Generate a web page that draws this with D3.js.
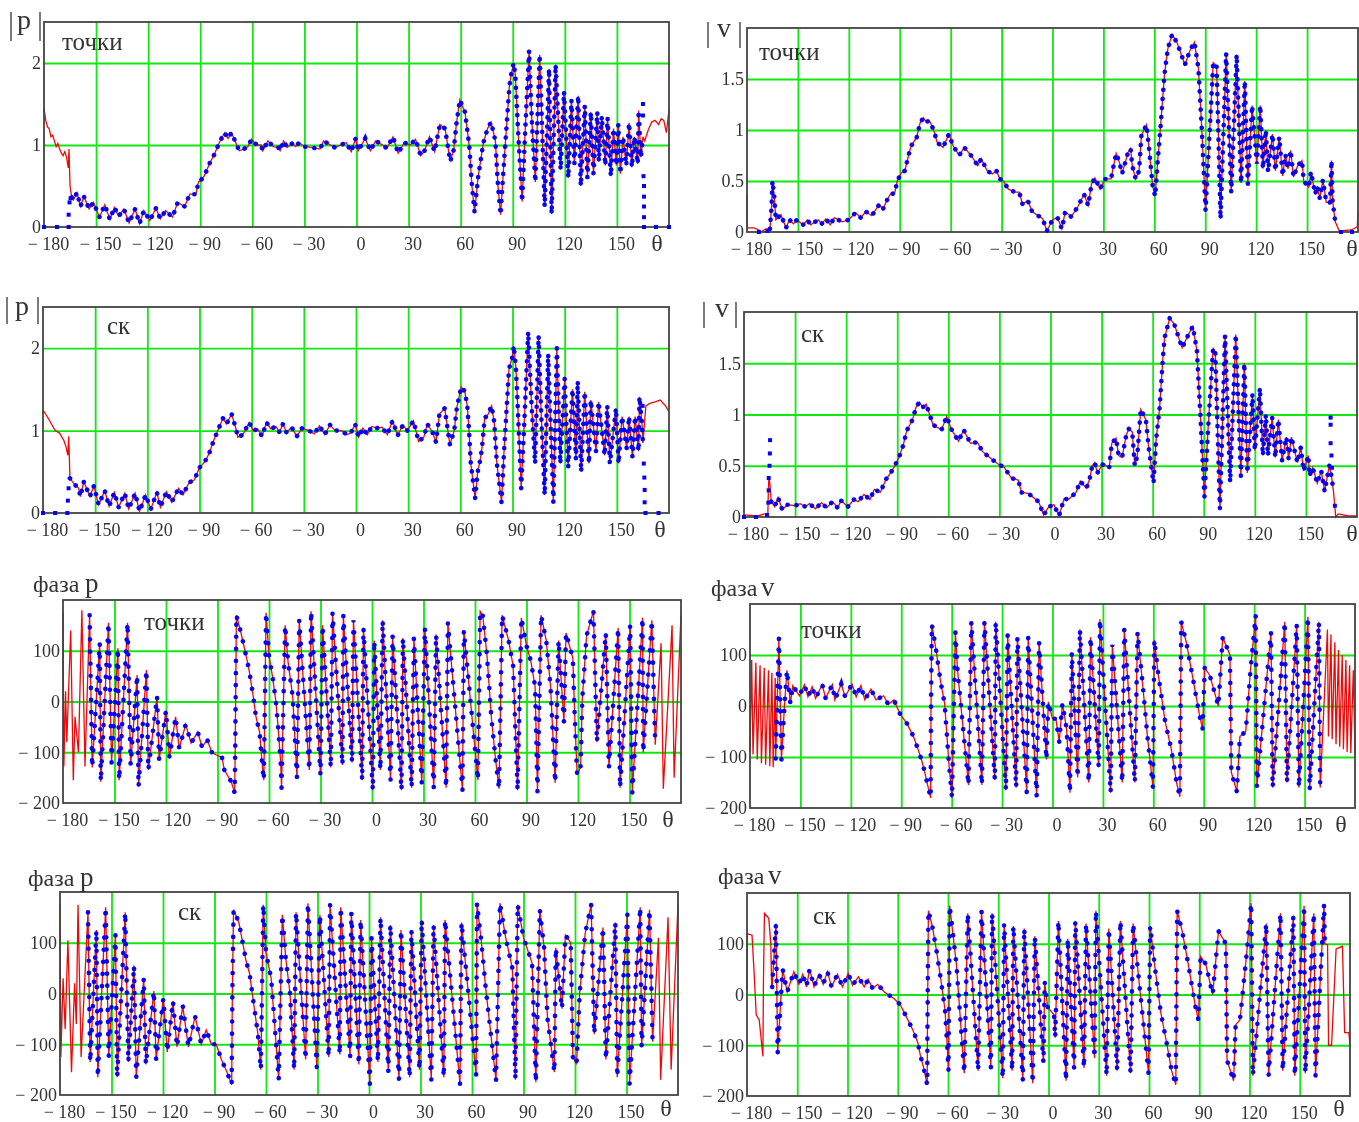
<!DOCTYPE html>
<html>
<head>
<meta charset="utf-8">
<script src="https://cdn.jsdelivr.net/npm/d3@7"></script>
<style>
  body { margin: 0; background: #fff; }
  svg { display: block; filter: blur(0.5px); }
  text { font-family: "Liberation Serif", serif; fill: #333; }
</style>
</head>
<body>
<div class="canvas"></div>
<script>
// tick labels shared by the panels
const thetaTicks = [-180, -150, -120, -90, -60, -30, 0, 30, 60, 90, 120, 150]
const gridTheta = [-150, -120, -90, -60, -30, 0, 30, 60, 90, 120, 150]
const absPTicks = [0, 1, 2]
const absVTicks = [0, 0.5, 1, 1.5]
const phaseTicks = [-200, -100, 0, 100]

// |p| точки : [theta, value]
const absPDots = [[-180,1.45],[-179,1.3],[-178,1.22],[-177,1.2],[-176,1.1],[-175,1.12],[-174,1.05],[-173,.98],[-172,1.02],[-171,.95],[-170,.9],[-169,.87],[-168,.92],[-167,.85],[-166,.72],[-165.6,.95],[-165,.5],[-164,.36],[-163,.33],[-161,.42],[-159,.25],[-157,.37],[-154,.22],[-151.5,.3],[-148,.12],[-145,.27],[-142,.09],[-139.5,.24],[-137,.13],[-134,.22],[-131,.05],[-127.5,.22],[-125,.04],[-122.5,.2],[-119,.08],[-115.5,.23],[-113,.1],[-110,.2],[-106,.12],[-103,.3],[-99,.25],[-96,.4],[-92.5,.4],[-91,.55],[-90,.56],[-87.5,.63],[-84.5,.78],[-82,.88],[-79,1.03],[-76,1.15],[-74,1.08],[-72,1.15],[-69,1.0],[-67.5,.93],[-65,.95],[-62.5,.98],[-60.5,1.07],[-57.5,1.0],[-55,1.0],[-54,.93],[-51,1.05],[-48,.98],[-45,.97],[-44,.93],[-42,1.05],[-40,.97],[-37,1.02],[-35,.98],[-33,1.03],[-30,.98],[-26,.97],[-21,.95],[-19,1.05],[-15,1.0],[-12.5,.97],[-9,1.0],[-6,1.03],[-3,.92],[-.5,1.08],[1,.93],[5,1.08],[8,.93],[11,1.05],[15,1.0],[17.5,.96],[21,1.1],[24,.9],[27.5,1.03],[31,1.0],[34,1.07],[37,.87],[39,.92],[42,1.1],[45,.92],[48,1.25],[51,1.2],[54,.8],[56,.94],[57.5,1.25],[59.5,1.55],[62.5,1.4],[65,.98],[66.5,.5],[68,.18],[70,.6],[73,1.02],[75.5,1.2],[77.5,1.28],[80,1.05],[81.5,.5],[83,.15],[84.5,.65],[86.5,1.25],[88,1.7],[89,1.85],[90.5,2.0],[91.5,1.85],[93,1.2],[95.4,.31],[97,1.1],[99.4,2.15],[101,1.3],[103,.55],[105.5,2.1],[108.4,.25],[110.9,1.93],[112.4,.16],[114.7,1.98],[117.6,.7],[119.5,1.65],[122,.6],[123.8,1.55],[125.5,.77],[127.7,1.6],[129.2,.5],[131.5,1.48],[133,.6],[135,1.4],[136.5,.65],[138.7,1.4],[139.6,.8],[141.3,1.35],[143.3,.75],[144.6,1.33],[146.5,.62],[148,1.2],[149.7,.75],[150.8,1.25],[152,.65],[153.5,1.1],[155.4,.75],[157,1.27],[158.6,.73],[160,1.1],[162,.77],[162.5,1.42],[163.8,.85],[165,1.1],[166,1.05],[168,1.18],[170,1.28],[172,1.3],[174,1.25],[175.5,1.32],[177,1.3],[178.5,1.15],[180,1.43]]
const absPLead = [[-180,0],[-172.5,0],[-165.8,0],[-165.8,.15],[-165.3,.3],[-164.7,.35]]
const absPTrail = [[165,1.5],[165,1.36],[165.3,.62],[165.6,.5],[165.6,.37],[165.6,.25],[165.6,.12],[165.6,0],[172.5,0],[180,0]]

// |v| точки
const absVDots = [[-180,.37],[-180,.2],[-179.7,.04],[-176,.04],[-173,.02],[-172,0],[-168.8,.03],[-166.5,.03],[-165.5,.25],[-165,.5],[-164,.36],[-163,.12],[-160,.17],[-157,.04],[-155,.12],[-152.6,.08],[-150.6,.12],[-147,.07],[-144.5,.12],[-142.5,.07],[-138,.12],[-136,.08],[-133.5,.13],[-131,.07],[-128.5,.14],[-124,.1],[-120,.12],[-116,.19],[-113,.14],[-110,.2],[-106.5,.16],[-102,.27],[-100,.22],[-97,.33],[-95.5,.37],[-93,.38],[-91.5,.5],[-89,.58],[-87,.6],[-85,.74],[-83.4,.84],[-80,.93],[-78,1.07],[-76,1.12],[-74.5,1.08],[-72.5,1.09],[-70,1.0],[-68,.88],[-64.5,.83],[-61,.96],[-58.7,.85],[-55,.75],[-52,.83],[-48,.75],[-44,.65],[-42,.72],[-38.5,.6],[-35.5,.57],[-33,.6],[-31,.52],[-29,.5],[-26,.42],[-22,.39],[-19.6,.39],[-17.6,.27],[-14.6,.31],[-12,.2],[-5.8,.13],[-3.3,.01],[0,.12],[3,.14],[5.5,.03],[7.5,.2],[11,.15],[15,.25],[18.6,.37],[21,.26],[23,.47],[25,.53],[28,.42],[31,.52],[34.5,.52],[36,.65],[37.5,.77],[39.5,.68],[41,.57],[44.5,.78],[46,.82],[47,.65],[49,.52],[51,.6],[52.4,.95],[55.4,1.05],[57,.8],[59,.45],[60.5,.35],[62,.7],[63.5,1.0],[66,1.55],[68,1.8],[70.5,1.94],[73.5,1.85],[78,1.64],[81,1.78],[83.6,1.86],[86,1.6],[88,1.0],[90.2,.21],[92,.8],[94.7,1.66],[96.7,1.63],[99,.13],[102.3,1.75],[105.3,.39],[108.5,1.74],[111.1,.48],[113.3,1.48],[115.1,.47],[117.6,1.24],[120.4,.67],[122.4,1.24],[124,.62],[125.7,1.0],[127,.59],[129.6,.96],[131.3,.6],[133.6,.93],[135.6,.55],[137.2,.76],[138.8,.62],[140.3,.8],[142,.54],[144.5,.65],[147,.7],[148,.5],[151,.44],[152.3,.59],[154.8,.37],[156,.45],[157.5,.33],[159.3,.51],[161.3,.29],[163.5,.29],[164.4,.7],[165,.31],[166.6,.1],[169,.01],[176,.02],[179.6,.05],[180,.2]]
const absVLead = [[-173,0],[-168,.01]]
const absVTrail = [[170,0],[176.5,0]]

// |p| ск
const absPSkDots = [[-180,1.25],[-177,1.15],[-173,1.0],[-170.5,.97],[-168,.88],[-166.7,.8],[-165.7,.7],[-165.2,.93],[-164.5,.42],[-162,.35],[-159.5,.3],[-158.5,.2],[-156.5,.38],[-153,.2],[-150.7,.33],[-148,.1],[-144.5,.27],[-142,.08],[-139,.25],[-136.5,.07],[-133,.24],[-130.7,.05],[-127,.24],[-124.5,.02],[-121,.22],[-118,.05],[-114.5,.25],[-112.5,.07],[-109,.26],[-106,.13],[-102,.3],[-99.5,.22],[-96,.37],[-93,.4],[-90,.55],[-87,.62],[-84.5,.72],[-82,.87],[-79.5,1.0],[-76.5,1.15],[-74.5,1.08],[-71.5,1.2],[-69,1.02],[-68,.92],[-65,.95],[-61.5,1.1],[-59,1.0],[-56.5,1.02],[-54,.93],[-51.5,1.1],[-49,1.02],[-46,1.05],[-44,.98],[-42,1.08],[-40,.98],[-37,1.04],[-34,.93],[-31,1.03],[-27,1.0],[-24,.96],[-21,1.06],[-18,.95],[-15,1.07],[-12,1.0],[-8,1.0],[-5.5,.95],[-3,.97],[-.5,1.08],[1.5,.92],[4,1.03],[6.5,.95],[9,1.05],[12,1.03],[15,1.04],[18,.95],[21,1.12],[24,.94],[27,1.07],[29.5,1.0],[33,1.12],[36,.87],[39,.92],[41,1.08],[44,.98],[46,.86],[48,1.2],[51,1.27],[54,.83],[56.5,1.0],[58,1.28],[60.5,1.53],[62.5,1.48],[64,1.3],[65,1.0],[66,.6],[68.5,.18],[70,.5],[71.5,.65],[72.5,.8],[74,1.15],[76,1.2],[78,1.3],[79.5,1.1],[81,.6],[83.7,.13],[85,.7],[86.7,1.3],[88,1.75],[90,1.9],[90.7,2.03],[92,1.75],[93,1.3],[95,.3],[97,1.2],[99,2.2],[101,1.3],[103,.6],[105,2.15],[106.5,1.2],[108.5,.22],[110.5,1.93],[113.5,.13],[115.5,2.0],[117.5,.6],[120,1.63],[122,.55],[124.5,1.5],[126.5,.65],[127.5,1.6],[129.5,.5],[131.5,1.47],[134,.6],[135,1.37],[138,.75],[139.5,1.35],[143,.7],[144.5,1.3],[146,.6],[149.5,1.27],[151,.6],[153,1.17],[155.7,.78],[157,1.17],[159,.68],[160.5,1.17],[162.5,.75],[163,1.41],[164.5,1.07],[165,.85],[166.7,1.3],[169,1.33],[172,1.35],[175,1.37],[178,1.3],[180,1.23]]
const absPSkLead = [[-180,0],[-173,0],[-166,0],[-165.7,.15],[-165.3,.3]]
const absPSkTrail = [[164.8,1.3],[165.5,.6],[165.8,.43],[166,.28],[166,.13],[166.5,0],[174,0]]

// |v| ск
const absVSkDots = [[-180,.02],[-172,.01],[-168,.03],[-166,.03],[-165.7,.26],[-165.3,.4],[-164.5,.27],[-164,.15],[-162,.1],[-160,.19],[-157.5,.07],[-154.5,.12],[-150,.11],[-147,.13],[-144,.1],[-141.5,.13],[-138,.08],[-134.5,.14],[-131.5,.09],[-128,.15],[-125,.09],[-123,.16],[-119,.1],[-115.5,.17],[-113,.15],[-109.5,.22],[-106,.17],[-103.5,.27],[-100,.24],[-96.5,.37],[-92.7,.46],[-89,.58],[-86.5,.7],[-84.5,.84],[-81,.95],[-79,1.07],[-77,1.12],[-75,1.07],[-73,1.1],[-71,1.0],[-69,.9],[-64,.85],[-61,.98],[-58,.85],[-54,.74],[-51,.85],[-47,.72],[-43,.73],[-40,.64],[-35,.57],[-31,.52],[-27,.48],[-23,.38],[-19,.36],[-17,.24],[-13,.23],[-7,.15],[-4,.02],[-1,.1],[2,.12],[5,.01],[8,.18],[10.5,.17],[15,.24],[17.5,.35],[21,.28],[23,.37],[24.5,.5],[26,.53],[27.5,.43],[31,.52],[34.5,.48],[36,.72],[38.5,.77],[40,.6],[42,.58],[44.5,.8],[46,.86],[48,.83],[49.5,.5],[51,.6],[53,1.05],[56,.95],[57.5,.7],[60.5,.33],[62,.75],[64,1.05],[66,1.55],[67,1.75],[70,1.94],[72.7,1.88],[77.3,1.65],[81,1.78],[83.6,1.86],[86,1.62],[88,1.0],[90.4,.2],[92.5,.85],[95.5,1.65],[96.8,1.6],[99.5,.08],[102.5,1.77],[105.5,.34],[108.8,1.78],[111.8,.4],[113.8,1.5],[115.6,.43],[118.6,1.2],[120,.65],[123,1.26],[124.7,.6],[126.5,1.0],[127.7,.6],[130.2,.97],[132,.58],[133.8,.95],[136,.55],[138.5,.78],[139.8,.57],[141.5,.78],[145,.53],[147,.68],[148.6,.45],[151.5,.6],[152,.4],[154,.48],[156.7,.33],[159,.45],[161,.25],[163.7,.5],[165,.4],[166.2,.25],[167.5,0],[169,.03],[175,.01],[180,.01]]
const absVSkLead = [[-180,0],[-173,0],[-166.5,.02],[-165.7,.14],[-165.5,.26],[-165.5,.38],[-165,.5],[-164.8,.62],[-164.7,.75]]
const absVSkTrail = [[164.5,.97],[164.5,.9],[164.5,.72],[165,.6],[165.3,.48],[167,.11]]

// фаза p точки
const phasePDots = [[-180,175],[-179.5,-128],[-178.5,20],[-177.8,-80],[-175.5,140],[-174,-155],[-173,-30],[-171,-100],[-169,180],[-167.2,-128],[-164.5,170],[-163,-130],[-158.6,115],[-158,-158],[-153.5,155],[-151.7,-120],[-148,105],[-147.3,-155],[-142.4,155],[-140.6,-125],[-136.8,52],[-136,-168],[-131.4,62],[-130.3,-135],[-125.2,10],[-124,-115],[-120,-18],[-118,-110],[-114.4,-30],[-112.3,-92],[-108.5,-45],[-105.4,-82],[-101.5,-60],[-99,-90],[-96,-75],[-93.3,-100],[-91,-105],[-87.4,-110],[-86,-135],[-82,-158],[-80,-180],[-79.7,-100],[-79,170],[-76.3,135],[-73,85],[-71.5,60],[-69.4,15],[-67.6,-30],[-65.5,-60],[-63.8,-130],[-63,-155],[-61.7,175],[-60,90],[-58,50],[-56,0],[-54.7,-50],[-53.2,-120],[-52.7,-170],[-50.6,150],[-48.8,75],[-46.2,10],[-43.7,-150],[-42.4,160],[-36.5,-135],[-35.5,178],[-30,-145],[-28.8,150],[-24,-130],[-23,175],[-17.2,-125],[-16.7,170],[-11.6,-120],[-10.8,160],[-5.7,-155],[-5,145],[.5,-175],[1.3,120],[4.9,-135],[6.2,160],[10.8,-155],[12,130],[17.2,-175],[18,125],[23.1,-170],[24.4,125],[29,-160],[30.8,145],[36,-170],[37.3,132],[43.2,-170],[44.2,155],[52.7,-175],[53.5,140],[61.7,-155],[63,178],[64.5,170],[67,90],[69.5,-30],[72,-115],[74,-172],[75.8,170],[79.6,120],[82.2,70],[84.8,-175],[87,165],[90,110],[92.5,80],[95,30],[96.4,-178],[98.5,170],[101.5,120],[104,30],[106.7,-160],[108.7,120],[111.8,-40],[113,135],[117,85],[118,-20],[119.5,-145],[121.5,-130],[122.5,5],[125,130],[129,178],[131,-80],[136.2,135],[138,-130],[143.4,145],[144.5,-170],[150.4,150],[151.6,-180],[157.6,165],[158,-100],[163,160],[165,-85],[168.4,115],[169.7,-172],[174.8,150],[176,-150],[180,170]]

// фаза v точки
const phaseVDots = [[-180,-90],[-179,90],[-178.2,-95],[-176.5,85],[-175.7,-105],[-174,80],[-173.2,-112],[-171.5,75],[-170.7,-115],[-169,70],[-168.2,-118],[-167,65],[-166.2,-120],[-165,55],[-164.7,-103],[-162.8,133],[-161.3,-105],[-159.5,0],[-158,70],[-156,5],[-154.5,40],[-150.6,20],[-147.6,42],[-145.5,18],[-143,38],[-141,15],[-137,42],[-135,15],[-131,42],[-129.5,12],[-125.7,43],[-123.4,18],[-119.3,43],[-116.8,18],[-114,40],[-111.7,12],[-108,33],[-105,12],[-100.5,20],[-97.7,3],[-94.4,12],[-90.8,-15],[-86.5,-35],[-82.7,-60],[-80,-85],[-78,-105],[-76,-130],[-74.3,-155],[-72.5,-180],[-72.3,0],[-71.8,160],[-69.3,110],[-66.7,50],[-64.2,5],[-63,-50],[-61.7,-110],[-59.8,-180],[-57.8,145],[-56.5,70],[-50,-155],[-48.3,165],[-42,-155],[-40.5,165],[-34.3,-145],[-33.8,165],[-27.7,-165],[-26.7,140],[-21.6,-160],[-20.9,135],[-15.3,-170],[-14.5,135],[-9.4,-178],[-8,125],[-3.6,-105],[-2.5,8],[0,-25],[2,-25],[4,-70],[5.9,5],[8.4,-45],[10.4,-170],[11.5,105],[15,-140],[16.3,150],[21.6,-150],[22.6,135],[27.5,-120],[28.2,170],[34.6,-170],[35.6,120],[41.5,-150],[42.7,150],[49,-150],[50.6,145],[54,30],[56.5,-60],[59.8,-160],[60.6,130],[63,60],[67,-30],[70.7,-85],[73.8,-150],[75.8,-178],[76.6,165],[79.6,125],[83.5,55],[87.3,-15],[89.3,-45],[90.6,75],[93.6,60],[98.7,0],[101.3,135],[105.6,100],[106.4,-130],[109.7,-168],[111.5,-60],[115,-50],[117.8,70],[120.9,178],[121.6,-158],[130,145],[131,-160],[138.2,165],[139.5,-150],[145.3,160],[146.6,-160],[152,175],[153,-165],[158.5,165],[159.3,-160],[163.6,150],[164.2,-60],[165.7,140],[166.4,-65],[168,125],[168.7,-75],[170.2,110],[170.9,-80],[172.4,100],[173.1,-85],[174.6,90],[175.3,-90],[176.8,80],[177.5,-92],[179,70],[180,-95]]

// фаза p ск
const phasePSkDots = [[-180,175],[-179.5,-125],[-178.2,30],[-177,-70],[-175.4,105],[-173.3,-155],[-171.5,20],[-170.5,-60],[-169.5,175],[-167.7,-125],[-163.7,160],[-162.4,-135],[-158.8,125],[-158,-165],[-153.4,170],[-151.6,-125],[-147.7,115],[-146.7,-165],[-142,160],[-140.2,-135],[-136.9,55],[-135.6,-165],[-131.2,30],[-130,-140],[-125.3,5],[-124,-130],[-119.8,-10],[-117.5,-115],[-114.2,-15],[-111.9,-105],[-108.5,-25],[-105.2,-105],[-101.3,-45],[-97.7,-100],[-94.8,-72],[-91.8,-100],[-89,-100],[-86,-130],[-82.7,-155],[-80,-180],[-79.6,0],[-78.9,165],[-75.8,140],[-73,90],[-71.7,65],[-69.6,40],[-68,0],[-66.8,-30],[-64.7,-80],[-63,-150],[-61.6,175],[-60,80],[-57,30],[-55,-60],[-52.6,-170],[-50.5,155],[-48.5,70],[-46,0],[-43.6,-150],[-42.5,160],[-36.9,-130],[-35.6,178],[-30.4,-145],[-28.6,155],[-23.5,-125],[-22.7,175],[-17,-120],[-16.5,170],[-11,-125],[-10.3,160],[-5.9,-140],[-4.9,145],[.5,-178],[1.5,110],[5.2,-135],[6.7,150],[11.3,-155],[12.4,135],[17.5,-170],[18.6,125],[23.7,-165],[24.7,125],[29.4,-150],[30.7,145],[36.3,-170],[37.6,135],[43.6,-165],[44.3,145],[53,-178],[53.9,140],[62.4,-160],[62.9,178],[65.5,100],[68,10],[74,-172],[76.3,178],[79.6,110],[83.5,50],[85.3,-170],[86.6,175],[90,110],[95,60],[97.2,-175],[99.5,165],[102,90],[104,-50],[108,-155],[108.8,90],[112.4,-30],[114.4,115],[117.5,100],[118.8,-125],[120.9,-140],[122.7,0],[126,120],[129.4,175],[131.2,-80],[136.3,130],[138,-130],[143.5,140],[144.6,-165],[150.5,155],[151.8,-178],[158,170],[158.8,-105],[163.4,165],[165.2,-95],[168.6,110],[169.9,-170],[174.2,150],[176,-150],[180,175]]

// фаза v ск
const phaseVSkDots = [[-180,10],[-179.8,120],[-177,117],[-175.7,40],[-174.5,-40],[-172.7,-50],[-170.5,-122],[-170.2,20],[-169.6,160],[-167,150],[-165.8,100],[-165.3,20],[-165,15],[-162.7,140],[-161.7,-115],[-158.7,50],[-156,5],[-152,45],[-149,20],[-146.7,40],[-144.5,15],[-142.6,50],[-140,15],[-137,40],[-134.5,20],[-132,45],[-129.5,15],[-126,40],[-123,15],[-119.6,42],[-117,18],[-113.5,35],[-110,15],[-107.7,30],[-105,12],[-102,20],[-98,5],[-92.3,-8],[-88.5,-20],[-84.7,-45],[-81,-70],[-78,-95],[-76.5,-120],[-74.5,-145],[-72.4,-178],[-72.3,-80],[-71.7,165],[-69.4,135],[-66.8,85],[-64.3,30],[-61.8,-30],[-60.5,-100],[-59.7,-150],[-59,175],[-55,60],[-50.3,-155],[-48.2,160],[-42,-150],[-40,165],[-34.4,-145],[-33.7,160],[-27.3,-165],[-26.5,140],[-21.7,-150],[-21,135],[-15.3,-170],[-14.5,130],[-9.4,-175],[-8.2,115],[-3,-135],[-2.3,25],[-.5,-25],[3.3,-40],[4,-85],[5.9,145],[10.5,-170],[11.5,110],[15.3,-145],[16,145],[21.2,-145],[22.4,140],[27.5,-125],[28.3,165],[34.7,-160],[36,130],[41,-150],[42.9,145],[49,-155],[50.5,140],[59.7,-155],[60.7,135],[63.3,60],[67,-35],[70.8,-100],[73.5,-150],[76,-178],[76.8,165],[79.8,125],[83.7,55],[87.5,-20],[89.5,-50],[90.8,75],[93.9,60],[98,0],[101.5,125],[105.9,100],[106.6,-130],[110.5,-170],[111.7,-60],[114.3,-50],[118,70],[121,180],[122,-160],[130,140],[131.4,-160],[138.5,160],[139.8,-150],[146.2,155],[147,-160],[152.6,175],[153.3,-155],[158.4,160],[159.4,-160],[164.5,178],[165,100],[166.6,98],[167.2,-100],[169,-100],[171.7,90],[175.5,95],[176.8,-75],[179.3,-75],[180,-100]]

const panels = [
  { name: 'точки', dots: absPDots, lead: absPLead, trail: absPTrail, from: -164.5, to: 165, ticks: absPTicks, yMin: 0, yMax: 2.5, dotGap: 9,
    box: [44, 669, 22, 227], thetaX: 657, thetaDy: 24, nameAt: [62, 50], title: 'p', titleAt: [17, 29], bars: [11, 40, 12, 41] },
  { name: 'точки', dots: absVDots, lead: absVLead, trail: absVTrail, from: -167, to: 167, ticks: absVTicks, yMin: 0, yMax: 2, dotGap: 9,
    box: [747, 1358, 28, 232], thetaX: 1352, thetaDy: 24, nameAt: [759, 60], title: 'v', titleAt: [717, 37], bars: [708, 740, 22, 48] },
  { name: 'ск', dots: absPSkDots, lead: absPSkLead, trail: absPSkTrail, from: -164.5, to: 165, ticks: absPTicks, yMin: 0, yMax: 2.5, dotGap: 9,
    box: [43, 669, 307, 513], thetaX: 660, thetaDy: 24, nameAt: [107, 334], title: 'p', titleAt: [15, 315], bars: [7, 38, 297, 324] },
  { name: 'ск', dots: absVSkDots, lead: absVSkLead, trail: absVSkTrail, from: -164, to: 166.2, ticks: absVTicks, yMin: 0, yMax: 2, dotGap: 9,
    box: [744, 1357, 312, 517], thetaX: 1352, thetaDy: 24, nameAt: [801, 342], title: 'v', titleAt: [715, 317], bars: [704, 736, 302, 328] },
  { name: 'точки', dots: phasePDots, lead: [], trail: [], from: -164.5, to: 165, ticks: phaseTicks, yMin: -200, yMax: 200, dotGap: 12,
    box: [63, 681, 600, 803], thetaX: 668, thetaDy: 24, nameAt: [144, 630], title: 'фаза', word: 'p', titleAt: [33, 592], wordAt: [85, 592] },
  { name: 'точки', dots: phaseVDots, lead: [], trail: [], from: -164.7, to: 159.5, ticks: phaseTicks, yMin: -200, yMax: 200, dotGap: 12,
    box: [750, 1355, 604, 808], thetaX: 1341, thetaDy: 24, nameAt: [801, 638], title: 'фаза', word: 'v', titleAt: [711, 596], wordAt: [761, 596] },
  { name: 'ск', dots: phasePSkDots, lead: [], trail: [], from: -163.7, to: 165.2, ticks: phaseTicks, yMin: -200, yMax: 200, dotGap: 12,
    box: [60, 678, 892, 1095], thetaX: 666, thetaDy: 21, nameAt: [178, 920], title: 'фаза', word: 'p', titleAt: [28, 886], wordAt: [80, 886] },
  { name: 'ск', dots: phaseVSkDots, lead: [], trail: [], from: -165, to: 165, ticks: phaseTicks, yMin: -200, yMax: 200, dotGap: 12,
    box: [747, 1350, 893, 1096], thetaX: 1339, thetaDy: 20, nameAt: [813, 924], title: 'фаза', word: 'v', titleAt: [718, 884], wordAt: [768, 884] }
]

const formatTick = d => String(d).replace('-', '\u2212 ')

const svg = d3.select('.canvas').append('svg')
  .attr('width', 1359)
  .attr('height', 1122)

panels.forEach(p => {
  const [left, right, top, bottom] = p.box
  const x = d3.scaleLinear().domain([-180, 180]).range([left, right])
  const y = d3.scaleLinear().domain([p.yMin, p.yMax]).range([bottom, top])
  const g = svg.append('g')

  // green grid
  const xGrid = g.append('g')
    .attr('transform', `translate(0, ${bottom})`)
    .call(d3.axisBottom(x).tickValues(gridTheta).tickSize(top - bottom).tickFormat(''))
  const yGrid = g.append('g')
    .attr('transform', `translate(${left}, 0)`)
    .call(d3.axisLeft(y).tickValues(p.ticks.filter(d => d !== p.yMin)).tickSize(left - right).tickFormat(''))
  g.selectAll('.domain').remove()
  xGrid.selectAll('line').attr('stroke', '#10e810').attr('stroke-width', 1.8)
  yGrid.selectAll('line').attr('stroke', '#10e810').attr('stroke-width', 1.8)

  // red trace
  const line = d3.line().x(d => x(d[0])).y(d => y(d[1]))
  g.append('path')
    .attr('d', line(p.dots))
    .attr('fill', 'none')
    .attr('stroke', '#f00808')
    .attr('stroke-width', 1.3)

  // frame on top of the grid
  g.append('rect')
    .attr('x', left).attr('y', top)
    .attr('width', right - left).attr('height', bottom - top)
    .attr('fill', 'none')
    .attr('stroke', '#444')
    .attr('stroke-width', 1.8)

  // blue dotted trace, drawn as a dotted stroke over the same values
  g.append('path')
    .attr('d', line(p.dots.filter(d => d[0] >= p.from && d[0] <= p.to)))
    .attr('fill', 'none')
    .attr('stroke', '#0404f4')
    .attr('stroke-width', 4.6)
    .attr('stroke-linecap', 'round')
    .attr('stroke-dasharray', `0.1 ${p.dotGap}`)

  g.selectAll('rect.extra')
    .data(p.lead.concat(p.trail))
    .enter().append('rect')
    .attr('class', 'extra')
    .attr('x', d => x(d[0]) - 2)
    .attr('y', d => y(d[1]) - 2)
    .attr('width', 4)
    .attr('height', 4)
    .attr('fill', '#0404f4')

  // tick labels
  const xAxis = g.append('g')
    .attr('transform', `translate(0, ${bottom})`)
    .call(d3.axisBottom(x).tickValues(thetaTicks).tickSize(0).tickPadding(10).tickFormat(formatTick))
  const yAxis = g.append('g')
    .attr('transform', `translate(${left}, 0)`)
    .call(d3.axisLeft(y).tickValues(p.ticks).tickSize(0).tickPadding(3).tickFormat(formatTick))
  xAxis.select('.domain').remove()
  yAxis.select('.domain').remove()
  xAxis.selectAll('text').attr('dx', 4).style('font-size', '18px').style('font-family', '"Liberation Serif"')
  yAxis.selectAll('text').style('font-size', '18px').style('font-family', '"Liberation Serif"')

  g.append('text')
    .attr('x', p.thetaX).attr('y', bottom + p.thetaDy)
    .attr('text-anchor', 'middle')
    .style('font-size', '24px')
    .text('\u03b8')

  g.append('text')
    .attr('x', p.nameAt[0]).attr('y', p.nameAt[1])
    .style('font-size', '25px')
    .text(p.name)

  if (p.bars) {
    g.append('text')
      .attr('x', p.titleAt[0]).attr('y', p.titleAt[1])
      .style('font-size', '28px')
      .text(p.title)
    p.bars.slice(0, 2).forEach(bx => {
      g.append('line')
        .attr('x1', bx).attr('x2', bx)
        .attr('y1', p.bars[2]).attr('y2', p.bars[3])
        .attr('stroke', '#333')
        .attr('stroke-width', 1.3)
    })
  } else {
    g.append('text')
      .attr('x', p.titleAt[0]).attr('y', p.titleAt[1])
      .style('font-size', '24px')
      .text(p.title)
    g.append('text')
      .attr('x', p.wordAt[0]).attr('y', p.wordAt[1])
      .style('font-size', '27px')
      .text(p.word)
  }
})
</script>
</body>
</html>
